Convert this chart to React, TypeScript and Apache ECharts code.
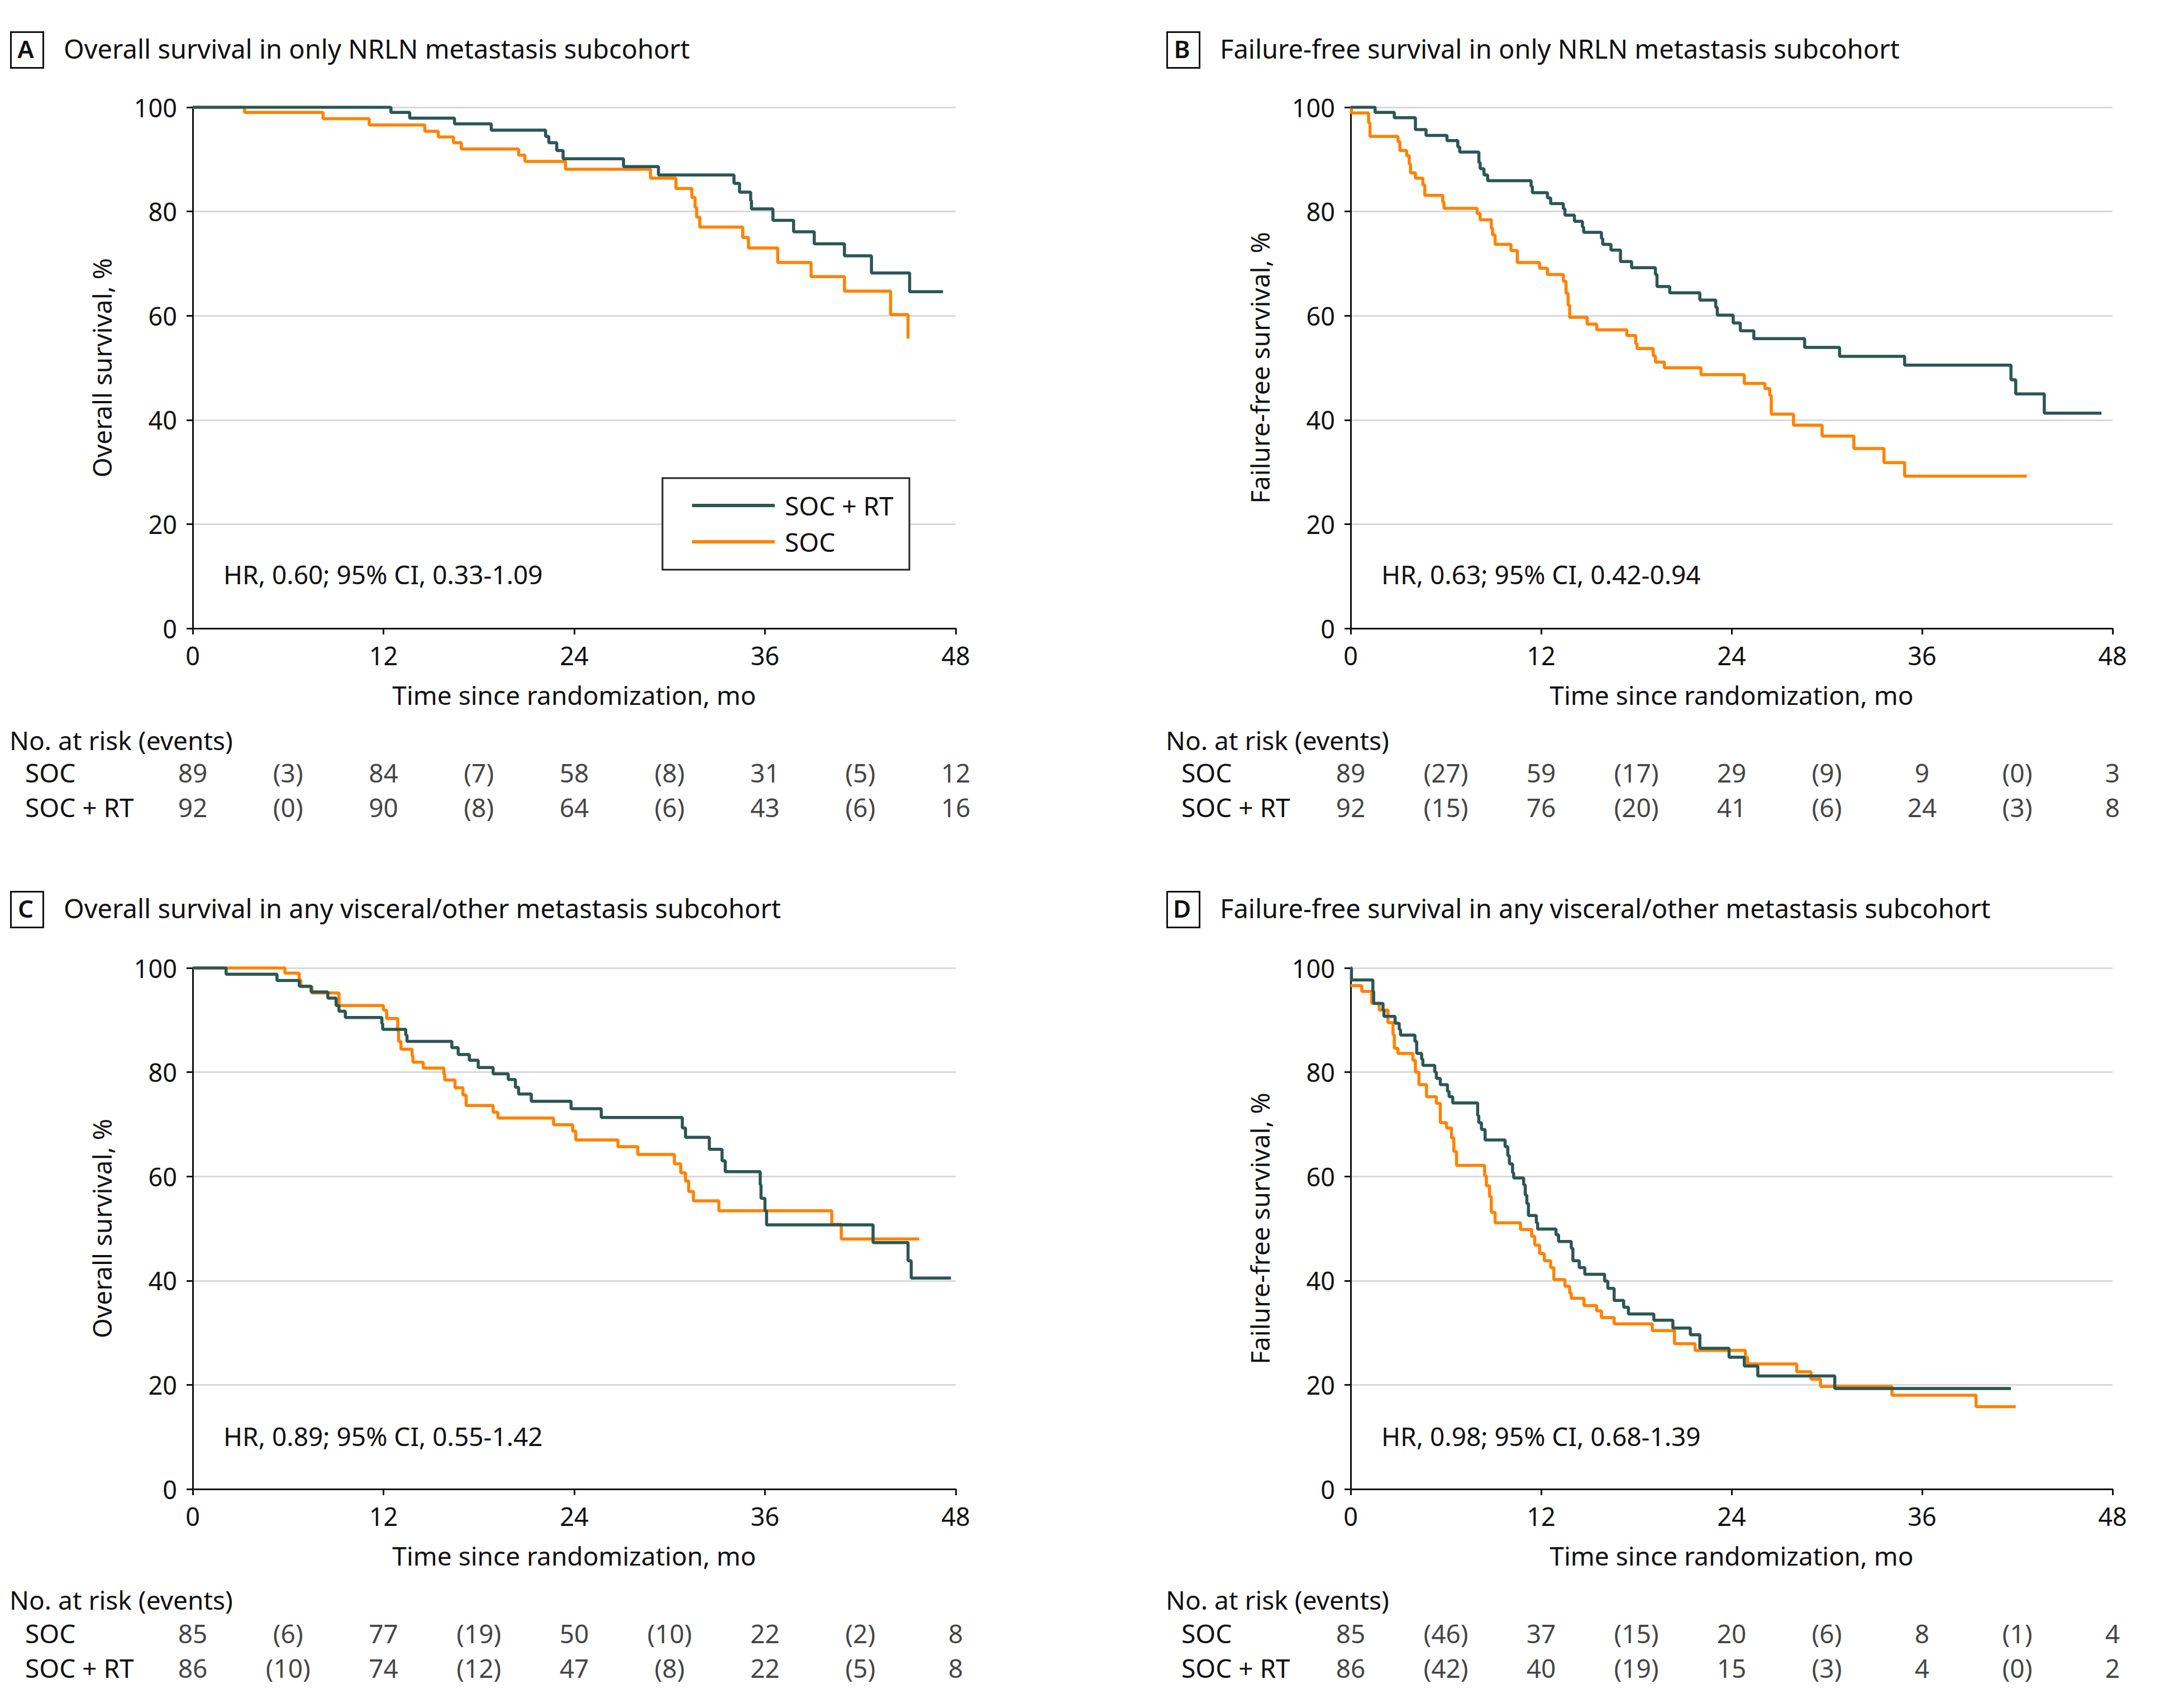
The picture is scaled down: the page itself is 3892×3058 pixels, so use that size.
import React, { useEffect, useRef } from "react";
import * as echarts from "echarts";

// ---------------- DATA ----------------
const panelLetters = ["A", "B", "C", "D"];
const panelTitles = [
  "Overall survival in only NRLN metastasis subcohort",
  "Failure-free survival in only NRLN metastasis subcohort",
  "Overall survival in any visceral/other metastasis subcohort",
  "Failure-free survival in any visceral/other metastasis subcohort",
];
const yAxisTitles = ["Overall survival, %", "Failure-free survival, %", "Overall survival, %", "Failure-free survival, %"];
const xAxisTitle = "Time since randomization, mo";
const hrTexts = [
  "HR, 0.60; 95% CI, 0.33-1.09",
  "HR, 0.63; 95% CI, 0.42-0.94",
  "HR, 0.89; 95% CI, 0.55-1.42",
  "HR, 0.98; 95% CI, 0.68-1.39",
];
const seriesNames = ["SOC + RT", "SOC"];
const riskRowLabels = ["SOC", "SOC + RT"];
const riskHeader = "No. at risk (events)";
const atRiskTimes = [0, 12, 24, 36, 48];
const eventTimes = [6, 18, 30, 42];
const xTicks = { min: 0, max: 48, interval: 12 };
const yTicks = { min: 0, max: 100, interval: 20 };

// Panel A
const A_RT: number[][] = [[0,100],[12.47,99.0],[13.65,97.9],[16.47,96.8],[18.78,95.6],[22.2,94.4],[22.4,93.2],[22.9,91.7],[23.3,90.1],[27.1,88.6],[29.3,87.0],[34.05,85.4],[34.4,83.7],[35.1,82.1],[35.15,80.5],[36.5,78.3],[37.8,76.1],[39.1,73.8],[41.0,71.5],[42.7,68.2],[45.1,64.6],[47.2,64.6]];
const A_SOC: number[][] = [[0,100],[3.26,99.0],[8.2,97.8],[11.1,96.6],[14.6,95.4],[15.45,94.3],[16.4,93.2],[16.9,92.0],[20.5,90.8],[20.9,89.6],[23.45,88.1],[28.8,86.4],[30.4,84.4],[31.4,82.7],[31.6,80.8],[31.7,78.9],[31.9,77.0],[34.6,75.0],[34.96,73.0],[36.8,70.2],[38.9,67.5],[41.0,64.7],[43.9,60.2],[45.0,55.6]];
// Panel B
const B_RT: number[][] = [[0,100],[1.54,99.0],[2.75,98.0],[4.08,95.7],[4.75,94.6],[6.07,93.6],[6.75,92.4],[6.87,91.4],[8.08,89.4],[8.16,88.2],[8.4,87.0],[8.63,85.9],[11.37,84.8],[11.45,83.6],[12.4,82.6],[12.6,81.5],[13.4,80.5],[13.5,79.3],[14.1,78.1],[14.6,77.0],[14.68,76.0],[15.8,74.8],[15.88,73.7],[16.4,72.6],[17.0,70.4],[17.7,69.2],[19.2,67.9],[19.3,65.6],[20.1,64.4],[22.0,63.0],[23.0,61.6],[23.1,60.1],[24.1,58.6],[24.55,57.1],[25.4,55.6],[28.6,53.9],[30.8,52.2],[34.9,50.5],[41.6,47.7],[41.9,45.0],[43.7,41.3],[47.3,41.3]];
const B_SOC: number[][] = [[0,100],[0.05,98.9],[1.13,97.0],[1.22,94.4],[2.98,93.4],[3.1,91.7],[3.53,90.7],[3.69,89.1],[3.77,87.4],[4.08,86.4],[4.55,85.1],[4.67,83.1],[5.8,81.8],[5.88,80.6],[7.97,79.6],[8.16,78.4],[8.86,76.8],[8.94,75.5],[9.1,73.7],[10.1,72.5],[10.5,70.2],[11.9,69.1],[12.4,67.9],[13.4,66.6],[13.57,64.3],[13.7,62.0],[13.8,59.7],[14.9,58.4],[15.5,57.3],[17.4,56.2],[17.96,54.6],[18.04,53.7],[19.06,52.3],[19.2,51.1],[19.76,50.0],[22.07,48.7],[24.8,47.0],[26.1,46.0],[26.4,44.7],[26.5,41.1],[27.9,39.0],[29.7,36.9],[31.7,34.5],[33.6,31.8],[34.9,29.2],[42.6,29.2]];
// Panel C
const C_RT: number[][] = [[0,100],[2.1,98.8],[5.3,97.6],[6.7,96.5],[7.45,95.4],[8.5,94.2],[9.02,92.8],[9.2,91.7],[9.6,90.5],[11.9,89.3],[11.95,88.2],[13.4,87.1],[13.48,85.9],[16.3,84.7],[16.7,83.4],[17.4,82.3],[17.96,80.9],[18.9,79.7],[19.85,78.6],[20.3,77.1],[20.5,75.8],[21.3,74.4],[23.8,73.0],[25.7,71.3],[30.8,69.3],[31.0,67.5],[32.5,65.2],[33.3,63.0],[33.5,60.9],[35.7,58.4],[35.75,55.8],[36.0,53.4],[36.1,50.7],[42.8,47.3],[45.0,43.8],[45.2,40.5],[47.7,40.5]];
const C_SOC: number[][] = [[0,100],[5.8,99.0],[6.7,97.7],[6.8,96.4],[7.5,95.2],[9.2,92.8],[12.0,91.9],[12.2,90.3],[12.9,87.9],[12.95,85.9],[13.1,84.4],[13.8,83.1],[13.85,81.9],[14.5,80.8],[15.8,79.6],[15.85,78.5],[16.5,77.0],[17.0,75.6],[17.2,73.6],[18.9,72.3],[19.2,71.2],[22.7,69.9],[23.9,68.7],[24.1,67.0],[26.75,65.7],[28.0,64.2],[30.3,62.4],[30.7,60.7],[31.0,59.1],[31.2,57.1],[31.5,55.3],[33.1,53.4],[40.2,50.8],[40.8,48.0],[45.7,48.0]];
// Panel D
const D_RT: number[][] = [[0,100],[0.05,97.7],[1.4,95.5],[1.45,93.2],[2.04,91.9],[2.1,90.7],[2.8,89.4],[3.06,88.2],[3.14,87.1],[4.05,85.9],[4.16,83.6],[4.47,82.5],[4.55,81.3],[5.3,80.0],[5.4,78.8],[5.65,77.6],[6.1,76.3],[6.2,75.3],[6.43,74.1],[8.0,71.7],[8.07,70.3],[8.24,69.0],[8.47,67.0],[9.73,65.7],[9.9,64.0],[10.0,62.4],[10.2,60.7],[10.27,59.7],[10.9,58.4],[11.0,56.4],[11.1,54.8],[11.2,52.5],[11.7,51.1],[11.78,49.9],[12.94,48.8],[13.1,47.5],[13.9,46.2],[14.0,43.8],[14.4,42.5],[14.75,41.2],[16.0,39.9],[16.2,38.5],[16.6,36.2],[17.2,34.9],[17.5,33.6],[19.1,32.4],[20.3,30.9],[21.4,29.6],[22.0,27.0],[23.84,25.3],[24.8,23.6],[25.65,21.7],[30.5,19.3],[41.6,19.3]];
const D_SOC: number[][] = [[0,96.6],[0.7,95.5],[1.33,93.2],[1.8,91.9],[2.35,89.5],[2.67,87.2],[2.75,84.6],[2.98,83.6],[3.92,82.3],[4.08,80.0],[4.3,77.6],[4.78,75.3],[5.4,74.0],[5.65,70.3],[6.04,69.3],[6.35,67.4],[6.5,64.8],[6.67,62.1],[8.44,60.1],[8.55,58.2],[8.75,56.1],[8.86,53.1],[9.1,51.1],[10.7,49.8],[11.4,48.5],[11.6,46.8],[11.9,45.2],[12.2,43.8],[12.6,42.5],[12.8,40.2],[13.5,38.9],[13.8,37.6],[13.9,36.6],[14.7,35.2],[15.5,34.2],[15.8,32.9],[16.6,31.7],[19.0,30.4],[20.4,27.9],[21.7,26.6],[24.87,25.3],[25.0,24.0],[28.1,22.5],[29.0,21.1],[29.6,19.7],[34.1,18.0],[39.4,15.8],[41.9,15.8]];

const curvesRT = [A_RT, B_RT, C_RT, D_RT];
const curvesSOC = [A_SOC, B_SOC, C_SOC, D_SOC];

// Number at risk / events
const A_atRiskSOC = [89, 84, 58, 31, 12];
const A_eventsSOC = [3, 7, 8, 5];
const A_atRiskRT = [92, 90, 64, 43, 16];
const A_eventsRT = [0, 8, 6, 6];
const B_atRiskSOC = [89, 59, 29, 9, 3];
const B_eventsSOC = [27, 17, 9, 0];
const B_atRiskRT = [92, 76, 41, 24, 8];
const B_eventsRT = [15, 20, 6, 3];
const C_atRiskSOC = [85, 77, 50, 22, 8];
const C_eventsSOC = [6, 19, 10, 2];
const C_atRiskRT = [86, 74, 47, 22, 8];
const C_eventsRT = [10, 12, 8, 5];
const D_atRiskSOC = [85, 37, 20, 8, 4];
const D_eventsSOC = [46, 15, 6, 1];
const D_atRiskRT = [86, 40, 15, 4, 2];
const D_eventsRT = [42, 19, 3, 0];

const atRiskSOC = [A_atRiskSOC, B_atRiskSOC, C_atRiskSOC, D_atRiskSOC];
const eventsSOC = [A_eventsSOC, B_eventsSOC, C_eventsSOC, D_eventsSOC];
const atRiskRT = [A_atRiskRT, B_atRiskRT, C_atRiskRT, D_atRiskRT];
const eventsRT = [A_eventsRT, B_eventsRT, C_eventsRT, D_eventsRT];

// ---------------- STYLE / LAYOUT ----------------
const FONT = '"Noto Sans", "Open Sans", sans-serif';
const INK = "#111111";
const COL_RT = "#2b5753";
const COL_SOC = "#ff8200";
const GRID_COLOR = "#d9d9d9";

const colLeft = [345, 2418, 345, 2418];
const colWidth = [1366, 1364, 1366, 1364];
const rowTop = [192, 192, 1733, 1733];
const plotH = 933;
const riskTop = [1352, 1352, 2893, 2893];
const riskH = 124;
const panelOriginX = [17, 2087, 17, 2087];
const titleY = [87, 87, 1626, 1626];
const riskHeaderY = [1325, 1325, 2864, 2864];
const hrY = [1028, 1028, 2571, 2571];

function buildOption() {
  const grid: any[] = [];
  const xAxis: any[] = [];
  const yAxis: any[] = [];
  const series: any[] = [];
  const graphic: any[] = [];

  for (let i = 0; i < 4; i++) {
    grid.push({ left: colLeft[i], top: rowTop[i], width: colWidth[i], height: plotH, containLabel: false });
    xAxis.push({
      gridIndex: i, type: "value", min: xTicks.min, max: xTicks.max, interval: xTicks.interval,
      axisLine: { show: true, onZero: false, lineStyle: { color: INK, width: 3 } },
      axisTick: { show: true, length: 11, lineStyle: { color: INK, width: 3 } },
      axisLabel: { fontSize: 45, color: INK, margin: 26, fontFamily: FONT },
      splitLine: { show: false },
      name: xAxisTitle, nameLocation: "middle", nameGap: 96,
      nameTextStyle: { fontSize: 46, color: INK, fontFamily: FONT },
    });
    yAxis.push({
      gridIndex: i, type: "value", min: yTicks.min, max: yTicks.max, interval: yTicks.interval,
      axisLine: { show: true, lineStyle: { color: INK, width: 3 } },
      axisTick: { show: true, length: 11, lineStyle: { color: INK, width: 3 } },
      axisLabel: { fontSize: 45, color: INK, margin: 28, fontFamily: FONT },
      splitLine: { show: true, lineStyle: { color: GRID_COLOR, width: 3 } },
      name: yAxisTitles[i], nameLocation: "middle", nameGap: 140, nameRotate: 90,
      nameTextStyle: { fontSize: 46, color: INK, fontFamily: FONT },
    });
  }
  for (let i = 0; i < 4; i++) {
    grid.push({ left: colLeft[i], top: riskTop[i], width: colWidth[i], height: riskH });
    xAxis.push({ gridIndex: 4 + i, type: "value", min: xTicks.min, max: xTicks.max, show: false });
    yAxis.push({
      gridIndex: 4 + i, type: "category", data: riskRowLabels, inverse: true,
      axisLine: { show: false }, axisTick: { show: false }, splitLine: { show: false },
      axisLabel: { align: "left", margin: colLeft[i] - panelOriginX[i] - 28, fontSize: 46, color: INK, fontFamily: FONT },
    });
  }

  for (let i = 0; i < 4; i++) {
    series.push({
      name: seriesNames[1], type: "line", xAxisIndex: i, yAxisIndex: i, data: curvesSOC[i],
      step: "end", symbol: "none", lineStyle: { color: COL_SOC, width: 5.5 }, itemStyle: { color: COL_SOC },
      z: 3, silent: true,
    });
    series.push({
      name: seriesNames[0], type: "line", xAxisIndex: i, yAxisIndex: i, data: curvesRT[i],
      step: "end", symbol: "none", lineStyle: { color: COL_RT, width: 5.5 }, itemStyle: { color: COL_RT },
      z: 4, silent: true,
    });
    const riskData: any[] = [];
    atRiskTimes.forEach((t, k) => {
      riskData.push([t, 0, String(atRiskSOC[i][k])]);
      riskData.push([t, 1, String(atRiskRT[i][k])]);
    });
    eventTimes.forEach((t, k) => {
      riskData.push([t, 0, "(" + eventsSOC[i][k] + ")"]);
      riskData.push([t, 1, "(" + eventsRT[i][k] + ")"]);
    });
    series.push({
      type: "scatter", xAxisIndex: 4 + i, yAxisIndex: 4 + i, data: riskData, symbolSize: 1,
      itemStyle: { color: "rgba(0,0,0,0)" }, silent: true,
      label: { show: true, position: "inside", formatter: (p: any) => p.value[2], fontSize: 46, color: INK, fontFamily: FONT },
    });

    // panel label box + title
    graphic.push({
      type: "rect", left: panelOriginX[i], top: titleY[i] - 32,
      shape: { width: 58, height: 64 }, style: { fill: "none", stroke: INK, lineWidth: 3 },
    });
    graphic.push({
      type: "text", x: panelOriginX[i] + 29, y: titleY[i],
      style: { text: panelLetters[i], fill: INK, font: `600 44px ${FONT}`, textAlign: "center", textVerticalAlign: "middle" },
    });
    graphic.push({
      type: "text", x: panelOriginX[i] + 97, y: titleY[i],
      style: { text: panelTitles[i], fill: INK, font: `47px ${FONT}`, textAlign: "left", textVerticalAlign: "middle" },
    });
    graphic.push({
      type: "text", x: colLeft[i] + 55, y: hrY[i],
      style: { text: hrTexts[i], fill: INK, font: `46px ${FONT}`, textAlign: "left", textVerticalAlign: "middle" },
    });
    graphic.push({
      type: "text", x: panelOriginX[i], y: riskHeaderY[i],
      style: { text: riskHeader, fill: INK, font: `46px ${FONT}`, textAlign: "left", textVerticalAlign: "middle" },
    });
  }

  // legend (panel A)
  graphic.push({ type: "rect", shape: { x: 1186, y: 856, width: 442, height: 164 }, style: { fill: "#fff", stroke: "#222", lineWidth: 3 }, z: 10 });
  graphic.push({ type: "line", shape: { x1: 1239, y1: 905, x2: 1387, y2: 905 }, style: { stroke: COL_RT, lineWidth: 6 }, z: 11 });
  graphic.push({ type: "line", shape: { x1: 1239, y1: 970, x2: 1387, y2: 970 }, style: { stroke: COL_SOC, lineWidth: 6 }, z: 11 });
  graphic.push({ type: "text", x: 1405, y: 905, z: 11, style: { text: seriesNames[0], fill: INK, font: `46px ${FONT}`, textAlign: "left", textVerticalAlign: "middle" } });
  graphic.push({ type: "text", x: 1405, y: 970, z: 11, style: { text: seriesNames[1], fill: INK, font: `46px ${FONT}`, textAlign: "left", textVerticalAlign: "middle" } });

  return {
    animation: false,
    backgroundColor: "#ffffff",
    textStyle: { fontFamily: FONT },
    grid, xAxis, yAxis, series, graphic,
  };
}

export default function App() {
  const ref = useRef<HTMLDivElement>(null);
  useEffect(() => {
    if (!ref.current) return;
    const chart = echarts.init(ref.current, null, { renderer: "svg" });
    chart.setOption(buildOption() as any);
    return () => chart.dispose();
  }, []);
  return (
    <div
      ref={ref}
      style={{ position: "fixed", left: 0, top: 0, width: 3892, height: 3058, background: "#fff" }}
    />
  );
}
